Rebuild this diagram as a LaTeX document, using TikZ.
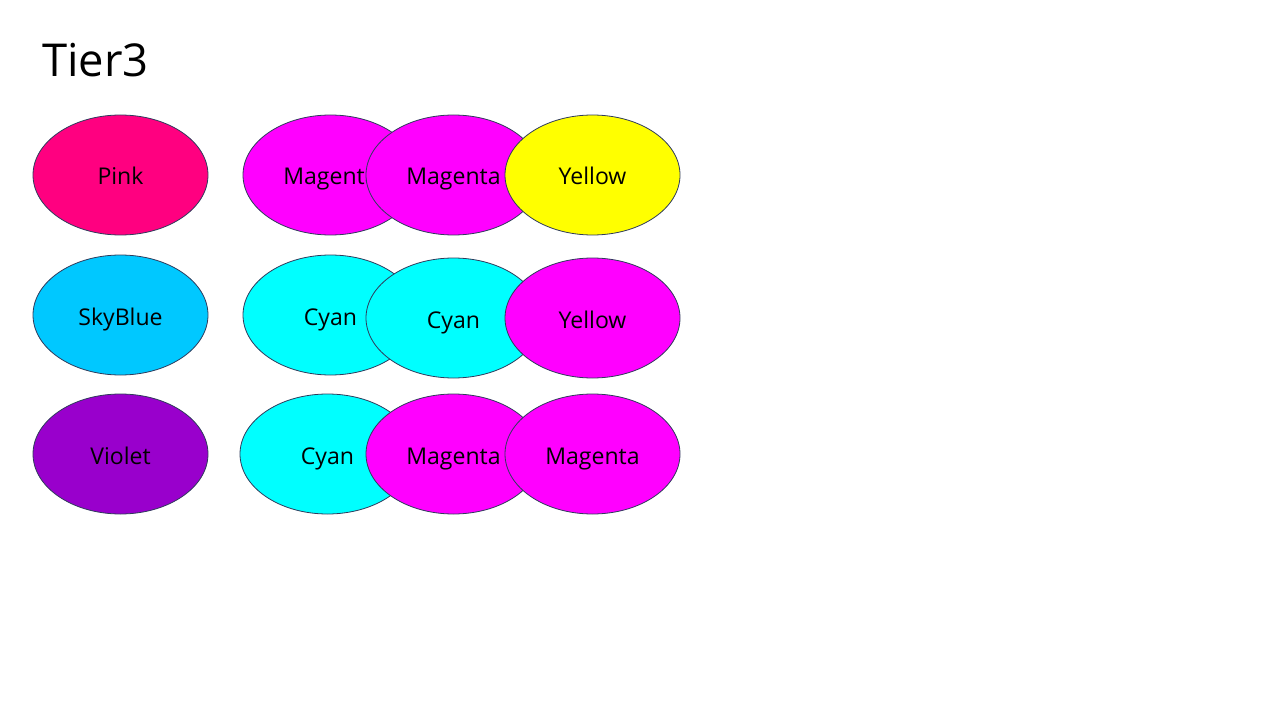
\documentclass[tikz,border=0pt]{standalone}
\usepackage{fontspec}
\setmainfont{Open Sans}
\usetikzlibrary{shapes.geometric}
\usepackage{xcolor}
\definecolor{tierpink}{HTML}{FF0080}
\definecolor{tiersky}{HTML}{00C8FF}
\definecolor{tierviolet}{HTML}{9900CC}
\definecolor{tiercyan}{HTML}{00FFFF}
\definecolor{tiermagenta}{HTML}{FF00FF}
\definecolor{tieryellow}{HTML}{FFFF00}
\definecolor{tieredge}{HTML}{2F3B5C}

\begin{document}
\begin{tikzpicture}[x=0.75pt,y=-0.75pt,
  blob/.style={ellipse,draw=tieredge,line width=0.6pt,minimum width=131.25pt,minimum height=90pt,inner sep=0pt,
    text height=18pt,text depth=3pt,font=\fontsize{17.3}{20}\selectfont}]
\useasboundingbox (0,0) rectangle (1280,720);
\node[anchor=base west,inner sep=0pt,font=\fontsize{34}{40}\selectfont] (title) at (42,77) {Tier3};
\node[blob,fill=tierpink] (pink) at (120.5,175) {Pink};
\node[blob,fill=tiermagenta] (magA) at (330.5,175) {Magenta};
\node[blob,fill=tiermagenta] (magB) at (453.5,175) {Magenta};
\node[blob,fill=tieryellow] (yelA) at (592.5,175) {Yellow};
\node[blob,fill=tiersky] (sky) at (120.5,315) {SkyBlue};
\node[blob,fill=tiercyan] (cyaA) at (330.5,315) {Cyan};
\node[blob,fill=tiercyan] (cyaB) at (453.5,318) {Cyan};
\node[blob,fill=tiermagenta] (yelB) at (592.5,318) {Yellow};
\node[blob,fill=tierviolet] (violet) at (120.5,454) {Violet};
\node[blob,fill=tiercyan] (cyaC) at (327.5,454) {Cyan};
\node[blob,fill=tiermagenta] (magC) at (453.5,454) {Magenta};
\node[blob,fill=tiermagenta] (magD) at (592.5,454) {Magenta};
\end{tikzpicture}
\end{document}
